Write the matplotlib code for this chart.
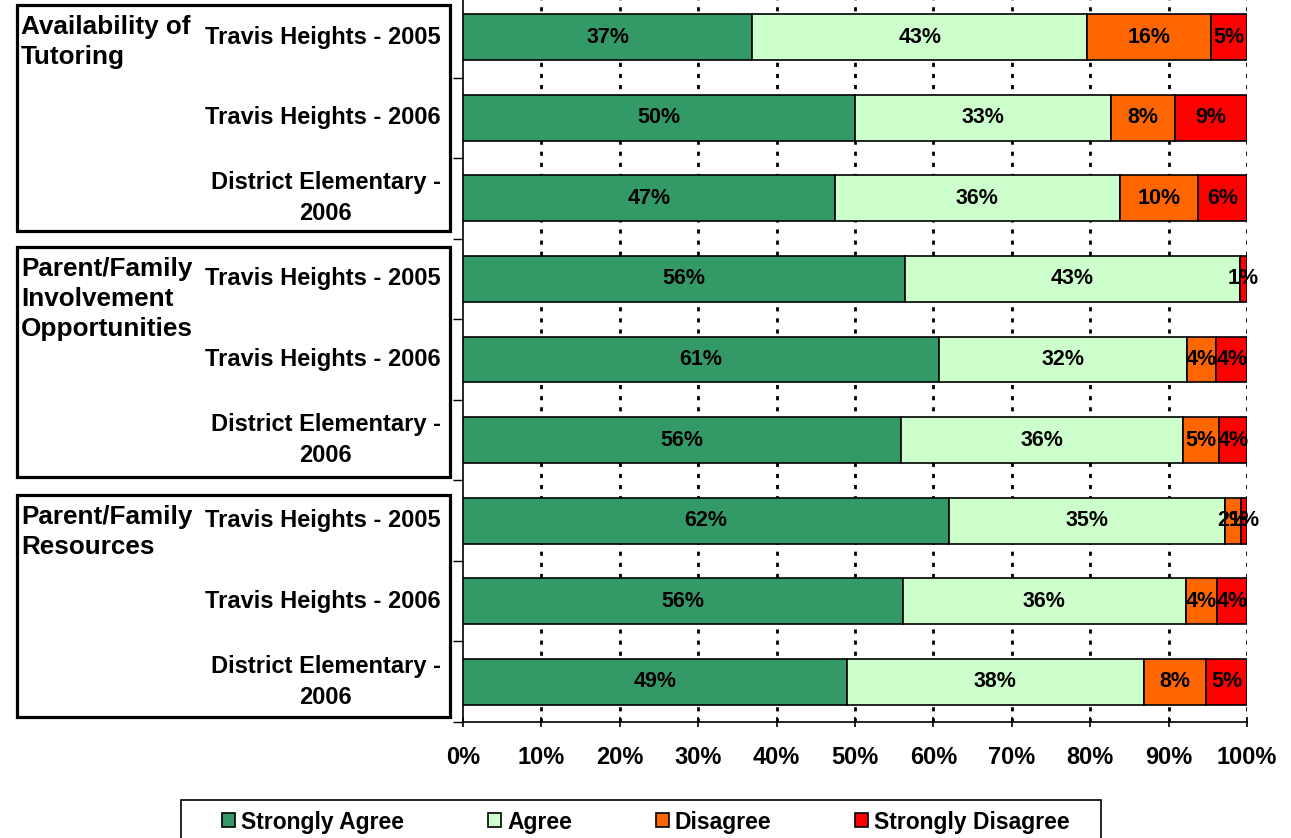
import matplotlib
matplotlib.use("Agg")
import matplotlib.pyplot as plt
from matplotlib.patches import Rectangle, Patch
from matplotlib.ticker import FixedLocator

plt.rcParams['font.family'] = ['Liberation Sans', 'DejaVu Sans']
plt.rcParams['font.weight'] = 'bold'
plt.rcParams['lines.scale_dashes'] = False

# ---------------- data ----------------
groups = ["Availability of\nTutoring",
          "Parent/Family\nInvolvement\nOpportunities",
          "Parent/Family\nResources"]
categories = ["Travis Heights - 2005", "Travis Heights - 2006", "District Elementary -\n2006"] * 3
series_names = ["Strongly Agree", "Agree", "Disagree", "Strongly Disagree"]
strongly_agree = [36.9, 50.0, 47.4, 56.4, 60.7, 55.9, 62.0, 56.1, 49.0]
agree = [42.7, 32.6, 36.4, 42.7, 31.6, 35.9, 35.2, 36.1, 37.8]
disagree = [15.8, 8.2, 10.0, 0.0, 3.8, 4.6, 2.0, 4.0, 8.0]
strongly_disagree = [4.6, 9.2, 6.2, 0.9, 3.9, 3.6, 0.8, 3.8, 5.2]
x_ticks = [0, 10, 20, 30, 40, 50, 60, 70, 80, 90, 100]
x_tick_labels = [f"{t}%" for t in x_ticks]

colors = ["#339966", "#CCFFCC", "#FF6600", "#FF0000"]

W, H = 1291, 838
fig = plt.figure(figsize=(W / 100, H / 100), dpi=100)

def fx(px):
    return px / W

def fy(py):
    return 1 - py / H

ax_left, ax_right, ax_top, ax_bottom = 463, 1247, -3, 722
ax = fig.add_axes([fx(ax_left), fy(ax_bottom), (ax_right - ax_left) / W, (ax_bottom - ax_top) / H])

n = len(categories)
ypos = list(range(n))
all_series = [strongly_agree, agree, disagree, strongly_disagree]
left = [0.0] * n
for vals, col, name in zip(all_series, colors, series_names):
    ax.barh(ypos, vals, left=left, height=0.57, color=col,
            edgecolor="black", linewidth=1.2, zorder=3, label=name)
    for i, (l, v) in enumerate(zip(left, vals)):
        if v > 0:
            ax.text(l + v / 2, i, f"{round(v)}%", ha="center", va="center",
                    fontsize=15.5, fontweight="bold", zorder=4)
    left = [a + b for a, b in zip(left, vals)]

ax.set_xlim(0, 100)
ax.set_ylim(n - 0.5, -0.5)

# gridlines
for t in x_ticks[1:]:
    ax.axvline(t, color="black", lw=2.0, linestyle=(0, (3, 5)), zorder=1)

ax.set_xticks(x_ticks)
ax.set_xticklabels(x_tick_labels, fontsize=17, fontweight="bold")
ax.tick_params(axis="x", direction="inout", length=7, width=1.2, pad=14)

ax.set_yticks(ypos)
ax.set_yticklabels(categories, fontsize=17, fontweight="bold", multialignment="center",
                   linespacing=1.45)
for lbl in ax.get_yticklabels():
    lbl.set_verticalalignment("center")
ax.tick_params(axis="y", which="major", length=0, pad=16)
ax.yaxis.set_minor_locator(FixedLocator([i + 0.5 for i in range(n)]))
ax.tick_params(axis="y", which="minor", direction="out", length=7, width=1.0)

for s in ["top", "right"]:
    ax.spines[s].set_visible(False)
ax.spines["left"].set_linewidth(1.2)
ax.spines["bottom"].set_linewidth(1.2)

# group boxes and labels
boxes = [(17, 5, 450, 231), (17, 247, 450, 477), (17, 495, 450, 717)]
for (x0, y0, x1, y1), g in zip(boxes, groups):
    fig.add_artist(Rectangle((fx(x0), fy(y1)), (x1 - x0) / W, (y1 - y0) / H,
                             transform=fig.transFigure, fill=False, lw=2.3,
                             edgecolor="black"))
    fig.text(fx(21), fy(y0 + 10), g, ha="left", va="top", fontsize=18.8,
             fontweight="bold", linespacing=1.32)

# legend with separate frame
fig.add_artist(Rectangle((fx(181), fy(850)), (1101 - 181) / W, (850 - 800) / H,
                         transform=fig.transFigure, fill=False, lw=1.2, edgecolor="black"))
handles = [Patch(facecolor=c, edgecolor="black", linewidth=1.2) for c in colors]
fig.legend(handles, series_names, loc="center", bbox_to_anchor=(fx(646), fy(822)),
           ncol=4, frameon=False, prop={"size": 16.5, "weight": "bold"},
           handlelength=0.57, handleheight=0.57, handletextpad=0.26, columnspacing=3.65,
           borderpad=0, borderaxespad=0)

fig.savefig("out.png", dpi=100)
